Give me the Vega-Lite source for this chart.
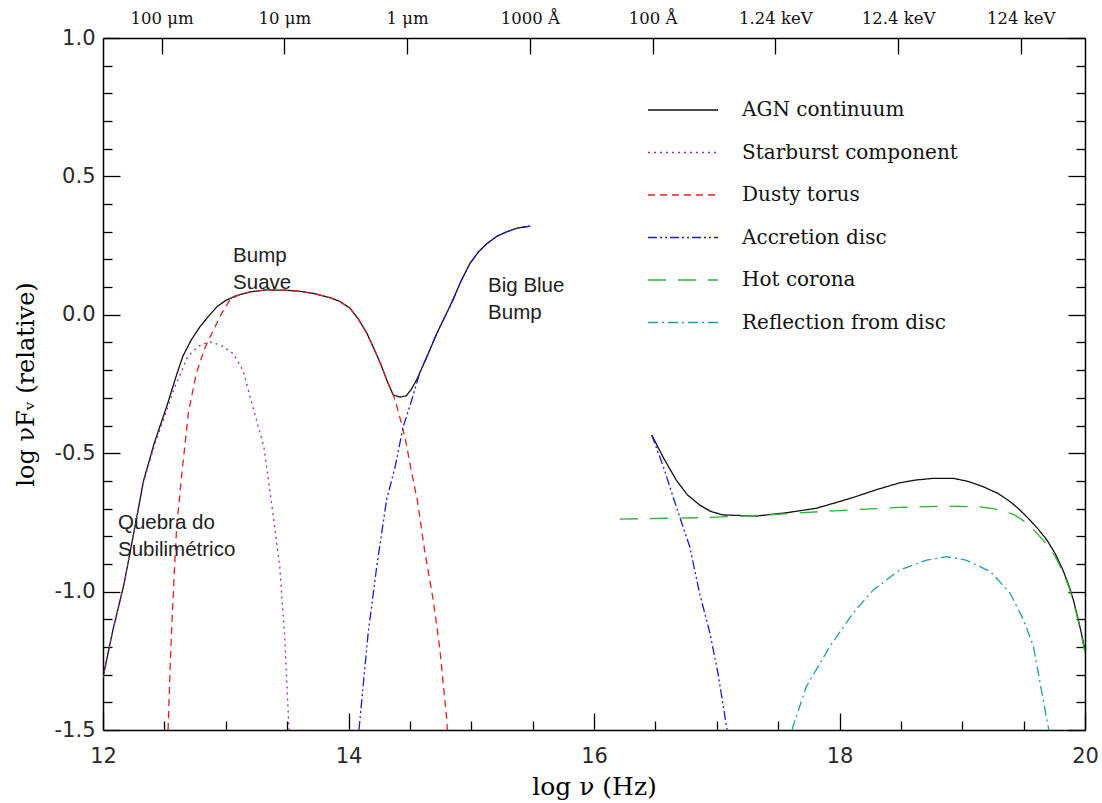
{
  "$schema": "https://vega.github.io/schema/vega-lite/v6.json",
  "width": 982,
  "height": 692,
  "autosize": {"type": "none"},
  "padding": {"left": 103, "top": 38, "right": 17, "bottom": 73},
  "background": "white",
  "config": {
    "view": {"stroke": null},
    "axis": {"grid": false, "domainColor": "#000", "domainWidth": 1.5, "tickColor": "#000", "tickWidth": 1.3, "labelColor": "#2a2a2a", "titleColor": "#000", "titleFontWeight": "normal"},
    "legend": {"padding": 0}
  },
  "resolve": {"axis": {"x": "independent", "y": "independent"}},
  "layer": [
    {
      "data": {"values": [
        {"series": "AGN continuum", "seg": "a1", "x": 12.00, "y": -1.31},
        {"series": "AGN continuum", "seg": "a1", "x": 12.08, "y": -1.14},
        {"series": "AGN continuum", "seg": "a1", "x": 12.17, "y": -0.975},
        {"series": "AGN continuum", "seg": "a1", "x": 12.25, "y": -0.79},
        {"series": "AGN continuum", "seg": "a1", "x": 12.33, "y": -0.60},
        {"series": "AGN continuum", "seg": "a1", "x": 12.42, "y": -0.46},
        {"series": "AGN continuum", "seg": "a1", "x": 12.52, "y": -0.33},
        {"series": "AGN continuum", "seg": "a1", "x": 12.59, "y": -0.23},
        {"series": "AGN continuum", "seg": "a1", "x": 12.65, "y": -0.15},
        {"series": "AGN continuum", "seg": "a1", "x": 12.72, "y": -0.09},
        {"series": "AGN continuum", "seg": "a1", "x": 12.79, "y": -0.043},
        {"series": "AGN continuum", "seg": "a1", "x": 12.86, "y": -0.005},
        {"series": "AGN continuum", "seg": "a1", "x": 12.93, "y": 0.03},
        {"series": "AGN continuum", "seg": "a1", "x": 13.00, "y": 0.052},
        {"series": "AGN continuum", "seg": "a1", "x": 13.08, "y": 0.068},
        {"series": "AGN continuum", "seg": "a1", "x": 13.20, "y": 0.083},
        {"series": "AGN continuum", "seg": "a1", "x": 13.33, "y": 0.09},
        {"series": "AGN continuum", "seg": "a1", "x": 13.48, "y": 0.089},
        {"series": "AGN continuum", "seg": "a1", "x": 13.60, "y": 0.085},
        {"series": "AGN continuum", "seg": "a1", "x": 13.72, "y": 0.077},
        {"series": "AGN continuum", "seg": "a1", "x": 13.85, "y": 0.062},
        {"series": "AGN continuum", "seg": "a1", "x": 13.93, "y": 0.048},
        {"series": "AGN continuum", "seg": "a1", "x": 14.01, "y": 0.025},
        {"series": "AGN continuum", "seg": "a1", "x": 14.08, "y": -0.015},
        {"series": "AGN continuum", "seg": "a1", "x": 14.15, "y": -0.067},
        {"series": "AGN continuum", "seg": "a1", "x": 14.21, "y": -0.125},
        {"series": "AGN continuum", "seg": "a1", "x": 14.26, "y": -0.175},
        {"series": "AGN continuum", "seg": "a1", "x": 14.32, "y": -0.245},
        {"series": "AGN continuum", "seg": "a1", "x": 14.365, "y": -0.29},
        {"series": "AGN continuum", "seg": "a1", "x": 14.42, "y": -0.297},
        {"series": "AGN continuum", "seg": "a1", "x": 14.47, "y": -0.293},
        {"series": "AGN continuum", "seg": "a1", "x": 14.51, "y": -0.27},
        {"series": "AGN continuum", "seg": "a1", "x": 14.555, "y": -0.235},
        {"series": "AGN continuum", "seg": "a1", "x": 14.65, "y": -0.14},
        {"series": "AGN continuum", "seg": "a1", "x": 14.72, "y": -0.067},
        {"series": "AGN continuum", "seg": "a1", "x": 14.85, "y": 0.053},
        {"series": "AGN continuum", "seg": "a1", "x": 14.92, "y": 0.125},
        {"series": "AGN continuum", "seg": "a1", "x": 14.99, "y": 0.186},
        {"series": "AGN continuum", "seg": "a1", "x": 15.06, "y": 0.228},
        {"series": "AGN continuum", "seg": "a1", "x": 15.13, "y": 0.258},
        {"series": "AGN continuum", "seg": "a1", "x": 15.21, "y": 0.284},
        {"series": "AGN continuum", "seg": "a1", "x": 15.29, "y": 0.30},
        {"series": "AGN continuum", "seg": "a1", "x": 15.38, "y": 0.314},
        {"series": "AGN continuum", "seg": "a1", "x": 15.48, "y": 0.32},
        {"series": "AGN continuum", "seg": "a2", "x": 16.47, "y": -0.434},
        {"series": "AGN continuum", "seg": "a2", "x": 16.57, "y": -0.52},
        {"series": "AGN continuum", "seg": "a2", "x": 16.67, "y": -0.597},
        {"series": "AGN continuum", "seg": "a2", "x": 16.76, "y": -0.65},
        {"series": "AGN continuum", "seg": "a2", "x": 16.86, "y": -0.687},
        {"series": "AGN continuum", "seg": "a2", "x": 16.95, "y": -0.71},
        {"series": "AGN continuum", "seg": "a2", "x": 17.05, "y": -0.723},
        {"series": "AGN continuum", "seg": "a2", "x": 17.325, "y": -0.727},
        {"series": "AGN continuum", "seg": "a2", "x": 17.57, "y": -0.715},
        {"series": "AGN continuum", "seg": "a2", "x": 17.81, "y": -0.699},
        {"series": "AGN continuum", "seg": "a2", "x": 17.96, "y": -0.68},
        {"series": "AGN continuum", "seg": "a2", "x": 18.11, "y": -0.66},
        {"series": "AGN continuum", "seg": "a2", "x": 18.30, "y": -0.632},
        {"series": "AGN continuum", "seg": "a2", "x": 18.49, "y": -0.607},
        {"series": "AGN continuum", "seg": "a2", "x": 18.62, "y": -0.597},
        {"series": "AGN continuum", "seg": "a2", "x": 18.76, "y": -0.591},
        {"series": "AGN continuum", "seg": "a2", "x": 18.93, "y": -0.591},
        {"series": "AGN continuum", "seg": "a2", "x": 19.05, "y": -0.602},
        {"series": "AGN continuum", "seg": "a2", "x": 19.17, "y": -0.621},
        {"series": "AGN continuum", "seg": "a2", "x": 19.29, "y": -0.645},
        {"series": "AGN continuum", "seg": "a2", "x": 19.39, "y": -0.675},
        {"series": "AGN continuum", "seg": "a2", "x": 19.47, "y": -0.705},
        {"series": "AGN continuum", "seg": "a2", "x": 19.55, "y": -0.741},
        {"series": "AGN continuum", "seg": "a2", "x": 19.62, "y": -0.775},
        {"series": "AGN continuum", "seg": "a2", "x": 19.69, "y": -0.814},
        {"series": "AGN continuum", "seg": "a2", "x": 19.76, "y": -0.865},
        {"series": "AGN continuum", "seg": "a2", "x": 19.82, "y": -0.922},
        {"series": "AGN continuum", "seg": "a2", "x": 19.87, "y": -0.98},
        {"series": "AGN continuum", "seg": "a2", "x": 19.905, "y": -1.03},
        {"series": "AGN continuum", "seg": "a2", "x": 19.95, "y": -1.11},
        {"series": "AGN continuum", "seg": "a2", "x": 20.00, "y": -1.21},
        {"series": "Starburst component", "seg": "s", "x": 12.00, "y": -1.31},
        {"series": "Starburst component", "seg": "s", "x": 12.08, "y": -1.14},
        {"series": "Starburst component", "seg": "s", "x": 12.17, "y": -0.975},
        {"series": "Starburst component", "seg": "s", "x": 12.25, "y": -0.79},
        {"series": "Starburst component", "seg": "s", "x": 12.33, "y": -0.605},
        {"series": "Starburst component", "seg": "s", "x": 12.42, "y": -0.47},
        {"series": "Starburst component", "seg": "s", "x": 12.52, "y": -0.345},
        {"series": "Starburst component", "seg": "s", "x": 12.58, "y": -0.265},
        {"series": "Starburst component", "seg": "s", "x": 12.63, "y": -0.215},
        {"series": "Starburst component", "seg": "s", "x": 12.69, "y": -0.15},
        {"series": "Starburst component", "seg": "s", "x": 12.78, "y": -0.113},
        {"series": "Starburst component", "seg": "s", "x": 12.87, "y": -0.097},
        {"series": "Starburst component", "seg": "s", "x": 12.96, "y": -0.11},
        {"series": "Starburst component", "seg": "s", "x": 13.06, "y": -0.14},
        {"series": "Starburst component", "seg": "s", "x": 13.14, "y": -0.2},
        {"series": "Starburst component", "seg": "s", "x": 13.22, "y": -0.332},
        {"series": "Starburst component", "seg": "s", "x": 13.31, "y": -0.476},
        {"series": "Starburst component", "seg": "s", "x": 13.37, "y": -0.67},
        {"series": "Starburst component", "seg": "s", "x": 13.44, "y": -0.91},
        {"series": "Starburst component", "seg": "s", "x": 13.48, "y": -1.163},
        {"series": "Starburst component", "seg": "s", "x": 13.51, "y": -1.45},
        {"series": "Starburst component", "seg": "s", "x": 13.515, "y": -1.5},
        {"series": "Dusty torus", "seg": "d", "x": 12.53, "y": -1.5},
        {"series": "Dusty torus", "seg": "d", "x": 12.545, "y": -1.3},
        {"series": "Dusty torus", "seg": "d", "x": 12.56, "y": -1.127},
        {"series": "Dusty torus", "seg": "d", "x": 12.58, "y": -0.94},
        {"series": "Dusty torus", "seg": "d", "x": 12.60, "y": -0.766},
        {"series": "Dusty torus", "seg": "d", "x": 12.64, "y": -0.585},
        {"series": "Dusty torus", "seg": "d", "x": 12.67, "y": -0.46},
        {"series": "Dusty torus", "seg": "d", "x": 12.695, "y": -0.356},
        {"series": "Dusty torus", "seg": "d", "x": 12.76, "y": -0.211},
        {"series": "Dusty torus", "seg": "d", "x": 12.83, "y": -0.12},
        {"series": "Dusty torus", "seg": "d", "x": 12.90, "y": -0.055},
        {"series": "Dusty torus", "seg": "d", "x": 12.96, "y": 0.0},
        {"series": "Dusty torus", "seg": "d", "x": 13.035, "y": 0.055},
        {"series": "Dusty torus", "seg": "d", "x": 13.12, "y": 0.075},
        {"series": "Dusty torus", "seg": "d", "x": 13.20, "y": 0.083},
        {"series": "Dusty torus", "seg": "d", "x": 13.33, "y": 0.09},
        {"series": "Dusty torus", "seg": "d", "x": 13.48, "y": 0.089},
        {"series": "Dusty torus", "seg": "d", "x": 13.60, "y": 0.085},
        {"series": "Dusty torus", "seg": "d", "x": 13.72, "y": 0.077},
        {"series": "Dusty torus", "seg": "d", "x": 13.85, "y": 0.062},
        {"series": "Dusty torus", "seg": "d", "x": 13.93, "y": 0.048},
        {"series": "Dusty torus", "seg": "d", "x": 14.01, "y": 0.025},
        {"series": "Dusty torus", "seg": "d", "x": 14.08, "y": -0.015},
        {"series": "Dusty torus", "seg": "d", "x": 14.15, "y": -0.067},
        {"series": "Dusty torus", "seg": "d", "x": 14.21, "y": -0.125},
        {"series": "Dusty torus", "seg": "d", "x": 14.26, "y": -0.175},
        {"series": "Dusty torus", "seg": "d", "x": 14.32, "y": -0.245},
        {"series": "Dusty torus", "seg": "d", "x": 14.365, "y": -0.29},
        {"series": "Dusty torus", "seg": "d", "x": 14.39, "y": -0.325},
        {"series": "Dusty torus", "seg": "d", "x": 14.43, "y": -0.39},
        {"series": "Dusty torus", "seg": "d", "x": 14.47, "y": -0.464},
        {"series": "Dusty torus", "seg": "d", "x": 14.51, "y": -0.56},
        {"series": "Dusty torus", "seg": "d", "x": 14.56, "y": -0.669},
        {"series": "Dusty torus", "seg": "d", "x": 14.62, "y": -0.85},
        {"series": "Dusty torus", "seg": "d", "x": 14.69, "y": -1.03},
        {"series": "Dusty torus", "seg": "d", "x": 14.745, "y": -1.21},
        {"series": "Dusty torus", "seg": "d", "x": 14.80, "y": -1.46},
        {"series": "Dusty torus", "seg": "d", "x": 14.805, "y": -1.5},
        {"series": "Accretion disc", "seg": "b1", "x": 14.085, "y": -1.5},
        {"series": "Accretion disc", "seg": "b1", "x": 14.094, "y": -1.46},
        {"series": "Accretion disc", "seg": "b1", "x": 14.16, "y": -1.15},
        {"series": "Accretion disc", "seg": "b1", "x": 14.23, "y": -0.91},
        {"series": "Accretion disc", "seg": "b1", "x": 14.31, "y": -0.669},
        {"series": "Accretion disc", "seg": "b1", "x": 14.38, "y": -0.549},
        {"series": "Accretion disc", "seg": "b1", "x": 14.446, "y": -0.404},
        {"series": "Accretion disc", "seg": "b1", "x": 14.515, "y": -0.308},
        {"series": "Accretion disc", "seg": "b1", "x": 14.58, "y": -0.211},
        {"series": "Accretion disc", "seg": "b1", "x": 14.65, "y": -0.14},
        {"series": "Accretion disc", "seg": "b1", "x": 14.72, "y": -0.067},
        {"series": "Accretion disc", "seg": "b1", "x": 14.85, "y": 0.053},
        {"series": "Accretion disc", "seg": "b1", "x": 14.92, "y": 0.125},
        {"series": "Accretion disc", "seg": "b1", "x": 14.99, "y": 0.186},
        {"series": "Accretion disc", "seg": "b1", "x": 15.06, "y": 0.228},
        {"series": "Accretion disc", "seg": "b1", "x": 15.13, "y": 0.258},
        {"series": "Accretion disc", "seg": "b1", "x": 15.21, "y": 0.284},
        {"series": "Accretion disc", "seg": "b1", "x": 15.29, "y": 0.30},
        {"series": "Accretion disc", "seg": "b1", "x": 15.38, "y": 0.314},
        {"series": "Accretion disc", "seg": "b1", "x": 15.48, "y": 0.32},
        {"series": "Accretion disc", "seg": "b2", "x": 16.47, "y": -0.434},
        {"series": "Accretion disc", "seg": "b2", "x": 16.565, "y": -0.549},
        {"series": "Accretion disc", "seg": "b2", "x": 16.67, "y": -0.693},
        {"series": "Accretion disc", "seg": "b2", "x": 16.78, "y": -0.838},
        {"series": "Accretion disc", "seg": "b2", "x": 16.86, "y": -1.006},
        {"series": "Accretion disc", "seg": "b2", "x": 16.945, "y": -1.151},
        {"series": "Accretion disc", "seg": "b2", "x": 17.01, "y": -1.295},
        {"series": "Accretion disc", "seg": "b2", "x": 17.08, "y": -1.488},
        {"series": "Accretion disc", "seg": "b2", "x": 17.085, "y": -1.5},
        {"series": "Hot corona", "seg": "h", "x": 16.21, "y": -0.738},
        {"series": "Hot corona", "seg": "h", "x": 16.86, "y": -0.733},
        {"series": "Hot corona", "seg": "h", "x": 17.41, "y": -0.723},
        {"series": "Hot corona", "seg": "h", "x": 17.95, "y": -0.708},
        {"series": "Hot corona", "seg": "h", "x": 18.49, "y": -0.696},
        {"series": "Hot corona", "seg": "h", "x": 18.90, "y": -0.691},
        {"series": "Hot corona", "seg": "h", "x": 19.15, "y": -0.694},
        {"series": "Hot corona", "seg": "h", "x": 19.31, "y": -0.705},
        {"series": "Hot corona", "seg": "h", "x": 19.42, "y": -0.722},
        {"series": "Hot corona", "seg": "h", "x": 19.52, "y": -0.75},
        {"series": "Hot corona", "seg": "h", "x": 19.60, "y": -0.785},
        {"series": "Hot corona", "seg": "h", "x": 19.69, "y": -0.83},
        {"series": "Hot corona", "seg": "h", "x": 19.76, "y": -0.875},
        {"series": "Hot corona", "seg": "h", "x": 19.82, "y": -0.93},
        {"series": "Hot corona", "seg": "h", "x": 19.87, "y": -0.985},
        {"series": "Hot corona", "seg": "h", "x": 19.905, "y": -1.035},
        {"series": "Hot corona", "seg": "h", "x": 19.95, "y": -1.115},
        {"series": "Hot corona", "seg": "h", "x": 20.00, "y": -1.22},
        {"series": "Reflection from disc", "seg": "r", "x": 17.615, "y": -1.5},
        {"series": "Reflection from disc", "seg": "r", "x": 17.62, "y": -1.488},
        {"series": "Reflection from disc", "seg": "r", "x": 17.73, "y": -1.343},
        {"series": "Reflection from disc", "seg": "r", "x": 17.92, "y": -1.199},
        {"series": "Reflection from disc", "seg": "r", "x": 18.11, "y": -1.078},
        {"series": "Reflection from disc", "seg": "r", "x": 18.275, "y": -0.994},
        {"series": "Reflection from disc", "seg": "r", "x": 18.49, "y": -0.922},
        {"series": "Reflection from disc", "seg": "r", "x": 18.71, "y": -0.886},
        {"series": "Reflection from disc", "seg": "r", "x": 18.87, "y": -0.874},
        {"series": "Reflection from disc", "seg": "r", "x": 19.03, "y": -0.886},
        {"series": "Reflection from disc", "seg": "r", "x": 19.23, "y": -0.928},
        {"series": "Reflection from disc", "seg": "r", "x": 19.39, "y": -1.006},
        {"series": "Reflection from disc", "seg": "r", "x": 19.50, "y": -1.103},
        {"series": "Reflection from disc", "seg": "r", "x": 19.58, "y": -1.199},
        {"series": "Reflection from disc", "seg": "r", "x": 19.63, "y": -1.32},
        {"series": "Reflection from disc", "seg": "r", "x": 19.70, "y": -1.488},
        {"series": "Reflection from disc", "seg": "r", "x": 19.705, "y": -1.5}
      ]},
      "mark": {"type": "line", "strokeWidth": 1.3, "clip": true},
      "encoding": {
        "x": {"field": "x", "type": "quantitative", "scale": {"domain": [12, 20], "nice": false, "zero": false},
              "axis": {"orient": "bottom", "values": [12, 14, 16, 18, 20], "tickSize": -17, "labelPadding": 32, "labelFont": "DejaVu Sans", "labelFontSize": 21, "title": "log ν (Hz)", "titleFont": "DejaVu Serif", "titleFontSize": 25, "titlePadding": 8, "labelFlush": false}},
        "y": {"field": "y", "type": "quantitative", "scale": {"domain": [-1.5, 1], "nice": false, "zero": false},
              "axis": {"orient": "left", "values": [-1.5, -1, -0.5, 0, 0.5, 1], "tickSize": -17, "labelPadding": 25, "labelFont": "DejaVu Sans", "labelFontSize": 21, "labelExpr": "(datum.value < 0 ? '-' : '') + format(abs(datum.value), '.1f')", "title": "log νFᵥ  (relative)", "titleFont": "DejaVu Serif", "titleFontSize": 24, "titlePadding": 16}},
        "color": {"field": "series", "type": "nominal",
                  "scale": {"domain": ["AGN continuum", "Starburst component", "Dusty torus", "Accretion disc", "Hot corona", "Reflection from disc"],
                            "range": ["#111111", "#a028b4", "#e02020", "#1a1ae0", "#30b030", "#20a0a0"]},
                  "legend": {"title": null, "orient": "none", "legendX": 561.5, "legendY": 53.5, "symbolType": "M-2,0H2", "symbolSize": 1225, "symbolStrokeWidth": 1.5, "labelFont": "DejaVu Serif", "labelFontSize": 20, "labelColor": "#111", "labelOffset": 40.5, "rowPadding": 13.5, "labelLimit": 400}},
        "strokeDash": {"field": "series", "type": "nominal",
                       "scale": {"domain": ["AGN continuum", "Starburst component", "Dusty torus", "Accretion disc", "Hot corona", "Reflection from disc"],
                                 "range": [[1, 0], [2, 4], [7, 5], [9, 3, 2, 3, 2, 3], [18, 12], [10, 4, 2, 4]]},
                       "legend": {"title": null}},
        "detail": {"field": "seg"}
      }
    },
    {
      "data": {"values": [{"x": 12, "y": -1.5}, {"x": 20, "y": 1}]},
      "mark": {"type": "point", "opacity": 0},
      "encoding": {
        "x": {"field": "x", "type": "quantitative", "scale": {"domain": [12, 20], "nice": false, "zero": false},
              "axis": {"orient": "bottom", "values": [12.5, 13, 13.5, 14.5, 15, 15.5, 16.5, 17, 17.5, 18.5, 19, 19.5], "tickSize": -9, "labels": false, "domain": false, "title": null}},
        "y": {"field": "y", "type": "quantitative", "scale": {"domain": [-1.5, 1], "nice": false, "zero": false},
              "axis": {"orient": "left", "values": [-1.4, -1.3, -1.2, -1.1, -0.9, -0.8, -0.7, -0.6, -0.4, -0.3, -0.2, -0.1, 0.1, 0.2, 0.3, 0.4, 0.6, 0.7, 0.8, 0.9], "tickSize": -9, "labels": false, "domain": false, "title": null}}
      }
    },
    {
      "data": {"values": [{"x": 12, "y": -1.5}, {"x": 20, "y": 1}]},
      "mark": {"type": "point", "opacity": 0},
      "encoding": {
        "x": {"field": "x", "type": "quantitative", "scale": {"domain": [12, 20], "nice": false, "zero": false},
              "axis": {"orient": "top", "values": [12.477, 13.477, 14.477, 15.477, 16.477, 17.477, 18.477, 19.477], "tickSize": -16, "labelPadding": 28, "labelFont": "DejaVu Serif", "labelFontSize": 16.5, "labelColor": "#111", "title": null,
                       "labelExpr": "{'12.477': '100 μm', '13.477': '10 μm', '14.477': '1 μm', '15.477': '1000 Å', '16.477': '100 Å', '17.477': '1.24 keV', '18.477': '12.4 keV', '19.477': '124 keV'}[format(datum.value, '.3f')]"}},
        "y": {"field": "y", "type": "quantitative", "scale": {"domain": [-1.5, 1], "nice": false, "zero": false},
              "axis": {"orient": "right", "values": [-1.5, -1, -0.5, 0, 0.5, 1], "tickSize": -17, "labels": false, "title": null}}
      }
    },
    {
      "data": {"values": [{"x": 12, "y": -1.5}, {"x": 20, "y": 1}]},
      "mark": {"type": "point", "opacity": 0},
      "encoding": {
        "x": {"field": "x", "type": "quantitative", "scale": {"domain": [12, 20], "nice": false, "zero": false}, "axis": null},
        "y": {"field": "y", "type": "quantitative", "scale": {"domain": [-1.5, 1], "nice": false, "zero": false},
              "axis": {"orient": "right", "values": [-1.4, -1.3, -1.2, -1.1, -0.9, -0.8, -0.7, -0.6, -0.4, -0.3, -0.2, -0.1, 0.1, 0.2, 0.3, 0.4, 0.6, 0.7, 0.8, 0.9], "tickSize": -9, "labels": false, "domain": false, "title": null}}
      }
    },
    {
      "data": {"values": [
        {"x": 13.06, "y": 0.248, "label": ["Bump", "Suave"]},
        {"x": 15.137, "y": 0.14, "label": ["Big Blue", "Bump"]},
        {"x": 12.122, "y": -0.716, "label": ["Quebra do", "Subilimétrico"]}
      ]},
      "mark": {"type": "text", "align": "left", "baseline": "top", "font": "Liberation Sans", "fontSize": 20.5, "lineHeight": 27, "color": "#222"},
      "encoding": {
        "x": {"field": "x", "type": "quantitative", "scale": {"domain": [12, 20], "nice": false, "zero": false}, "axis": null},
        "y": {"field": "y", "type": "quantitative", "scale": {"domain": [-1.5, 1], "nice": false, "zero": false}, "axis": null},
        "text": {"field": "label"}
      }
    }
  ]
}
